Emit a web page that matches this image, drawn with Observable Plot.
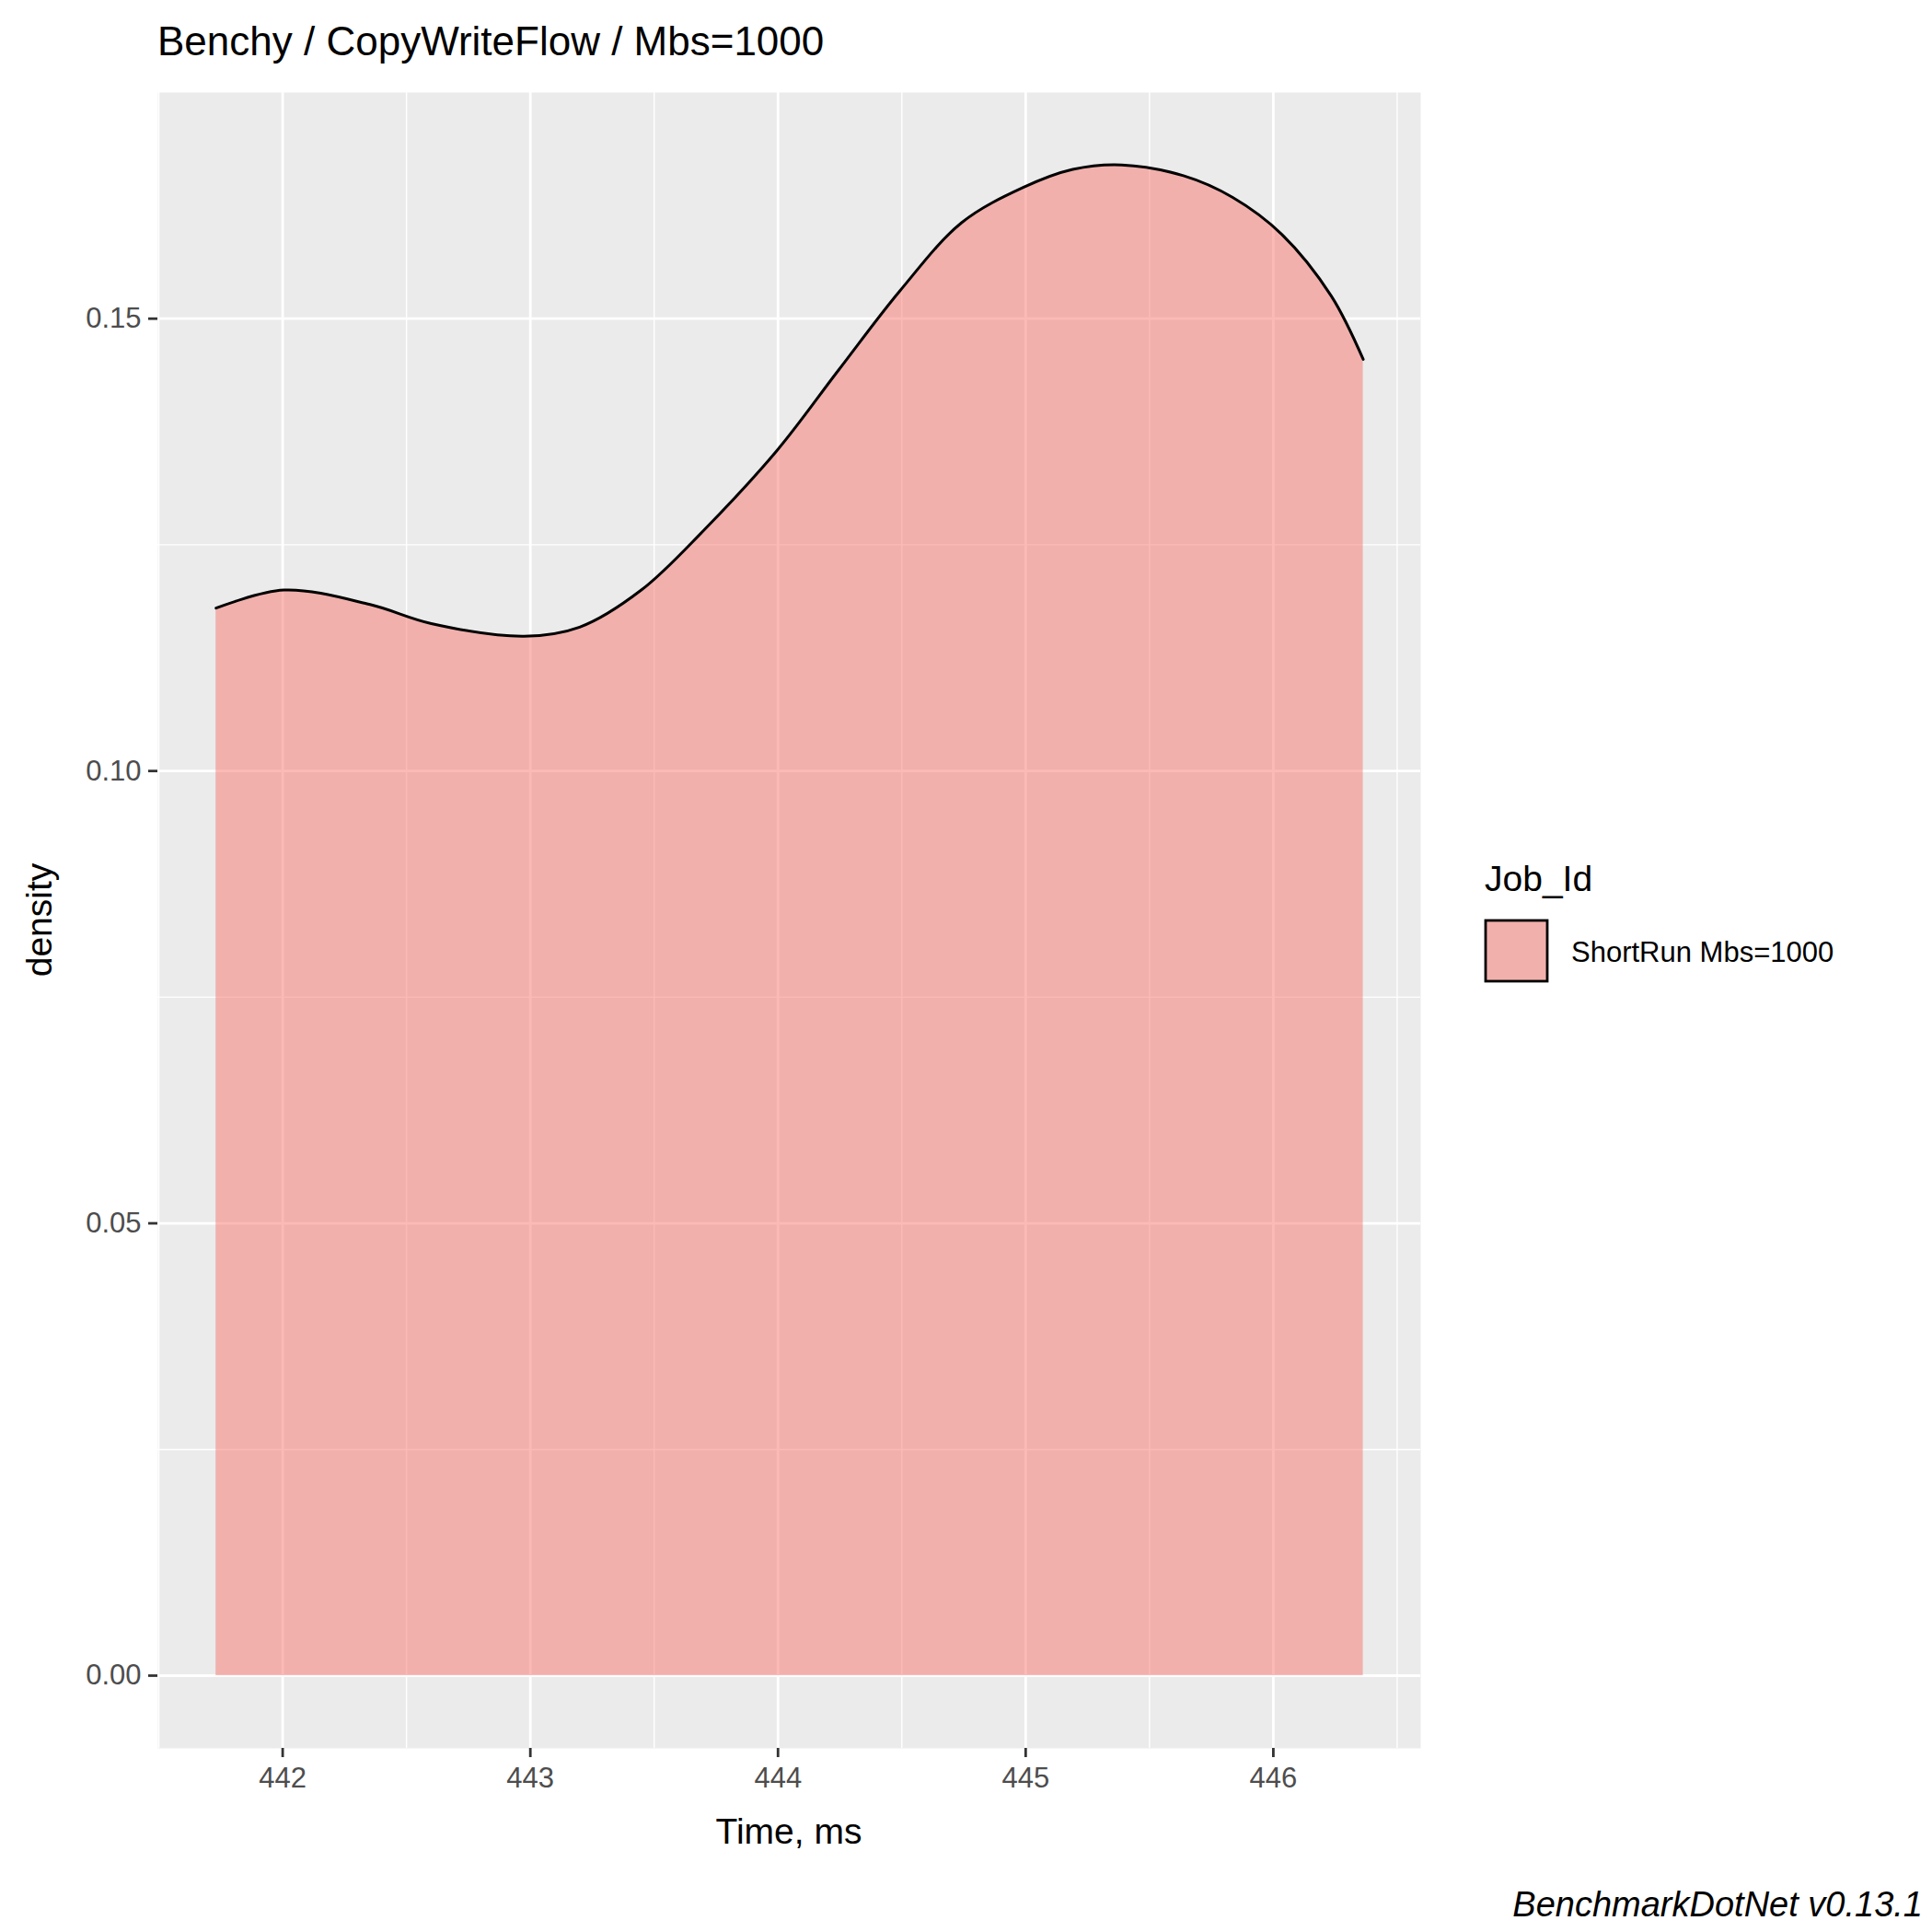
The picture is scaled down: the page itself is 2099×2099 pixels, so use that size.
<!DOCTYPE html>
<html>
<head>
<meta charset="utf-8">
<script src="https://cdn.jsdelivr.net/npm/d3@7"></script>
<script src="https://cdn.jsdelivr.net/npm/@observablehq/plot@0.6"></script>
<style>
  body { margin: 0; background: #fff; }
  #chart text { font-family: Arial, "Liberation Sans", sans-serif; }
</style>
</head>
<body>
<div id="chart"></div>
<script>
// density estimate
const times = [441.731, 442.005, 442.353, 442.60, 442.975, 443.199, 443.448, 443.70, 443.995, 444.244,
  444.493, 444.741, 444.99, 445.19, 445.388, 445.637, 445.836, 446.035, 446.234, 446.363];
const densities = [0.1180, 0.1200, 0.1184, 0.1163, 0.1149, 0.1159, 0.1200, 0.1266, 0.1354, 0.1443,
  0.1531, 0.1606, 0.1645, 0.1665, 0.1670, 0.1658, 0.1634, 0.1593, 0.1525, 0.1455];
const xTicks = [442, 443, 444, 445, 446];
const xMinor = [441.5, 442.5, 443.5, 444.5, 445.5, 446.5];
const yTicks = [0, 0.05, 0.10, 0.15];
const yMinor = [0.025, 0.075, 0.125];
const jobLabel = "ShortRun Mbs=1000";
const fillColor = "#F8766D";

const rows = times.map((t, i) => ({ t, d: densities[i] }));

const W = 2099, H = 2099;
const mL = 171, mR = 556, mT = 100, mB = 200;
const xDomain = [441.496, 446.595];
const yDomain = [-0.00804, 0.175];

const chart = Plot.plot({
  width: W,
  height: H,
  marginLeft: mL,
  marginRight: mR,
  marginTop: mT,
  marginBottom: mB,
  x: { domain: xDomain },
  y: { domain: yDomain },
  style: { background: "#fff", overflow: "visible" },
  marks: [
    Plot.frame({ fill: "#EBEBEB", stroke: null }),
    Plot.ruleX(xMinor, { stroke: "#fff", strokeWidth: 1.4 }),
    Plot.ruleY(yMinor, { stroke: "#fff", strokeWidth: 1.4 }),
    Plot.ruleX(xTicks, { stroke: "#fff", strokeWidth: 2.8 }),
    Plot.ruleY(yTicks, { stroke: "#fff", strokeWidth: 2.8 }),
    Plot.areaY(rows, { x: "t", y: "d", fill: fillColor, fillOpacity: 0.5, curve: "catmull-rom" }),
    Plot.lineY(rows, { x: "t", y: "d", stroke: "#000", strokeWidth: 3, curve: "catmull-rom" }),
    Plot.axisX({ ticks: xTicks, tickSize: 10, tickPadding: 10, stroke: "#333", strokeWidth: 2.8, label: null, tickFormat: d3.format("d") }),
    Plot.axisY({ ticks: yTicks, tickSize: 10, tickPadding: 8, stroke: "#333", strokeWidth: 2.8, label: null, tickFormat: d3.format(".2f") })
  ]
});

document.getElementById("chart").appendChild(chart);

const svg = d3.select(chart);
svg.selectAll("g[aria-label$='tick label']").attr("font-size", 31).attr("fill", "#4D4D4D");
svg.selectAll("g[aria-label$='tick label'] text").attr("fill", "#4D4D4D");

const addText = (x, y, str, size, anchor = "start") =>
  svg.append("text").attr("x", x).attr("y", y)
    .attr("font-size", size).attr("fill", "#000").attr("text-anchor", anchor).text(str);

// title
addText(mL, 60, "Benchy / CopyWriteFlow / Mbs=1000", 44);

// axis titles
addText(mL + (W - mL - mR) / 2, 2003, "Time, ms", 39, "middle");
svg.append("text").attr("transform", `translate(56,${mT + (H - mT - mB) / 2}) rotate(-90)`)
  .attr("text-anchor", "middle").attr("font-size", 39).attr("fill", "#000")
  .text("density");

// legend
addText(1613, 968, "Job_Id", 39);
svg.append("rect").attr("x", 1614).attr("y", 1000).attr("width", 67).attr("height", 66)
  .attr("fill", "#EBEBEB");
svg.append("rect").attr("x", 1614).attr("y", 1000).attr("width", 67).attr("height", 66)
  .attr("fill", fillColor).attr("fill-opacity", 0.5).attr("stroke", "#000").attr("stroke-width", 2.8);
addText(1707, 1045, jobLabel, 31);

// caption
addText(2089, 2082, "BenchmarkDotNet v0.13.1", 38, "end").attr("font-style", "italic");
</script>
</body>
</html>
